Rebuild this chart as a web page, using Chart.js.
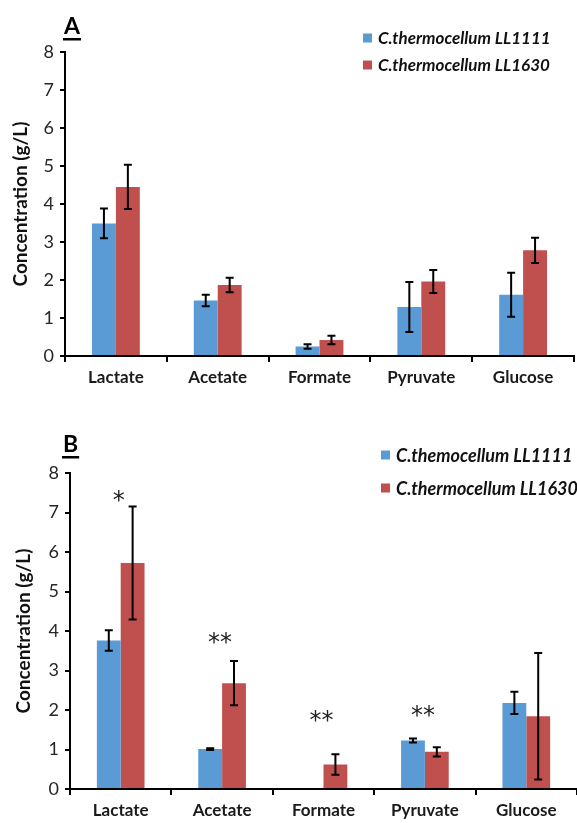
<!DOCTYPE html>
<html>
<head>
<meta charset="utf-8">
<script src="https://cdn.jsdelivr.net/npm/chart.js@4.4.1/dist/chart.umd.min.js"></script>
<style>
  body { margin: 0; background: #fff; }
  canvas { display: block; }
</style>
</head>
<body>
<canvas id="chartA" width="577" height="400"></canvas>
<canvas id="chartB" width="577" height="423"></canvas>
<script>
// categories and values (g/L)
const categories = ['Lactate', 'Acetate', 'Formate', 'Pyruvate', 'Glucose'];

const aLL1111 = [3.49, 1.46, 0.25, 1.29, 1.61];
const aLL1111Err = [0.39, 0.15, 0.06, 0.66, 0.58];
const aLL1630 = [4.45, 1.87, 0.42, 1.96, 2.78];
const aLL1630Err = [0.58, 0.19, 0.11, 0.30, 0.33];

const bLL1111 = [3.76, 1.01, 0, 1.23, 2.18];
const bLL1111Err = [0.26, 0.02, 0, 0.05, 0.28];
const bLL1630 = [5.72, 2.68, 0.62, 0.94, 1.84];
const bLL1630Err = [1.43, 0.56, 0.26, 0.12, 1.60];

// significance marks in panel B and the level they sit at
const bStars = ['*', '**', '**', '**', ''];
const bStarLevels = [7.37, 3.78, 1.8, 1.92, 0];

const legendA = ['C.thermocellum LL1111', 'C.thermocellum LL1630'];
const legendB = ['C.themocellum LL1111', 'C.thermocellum LL1630'];

const blue = '#5B9BD5';
const red = '#C0504D';

Chart.defaults.font.family = 'Lato';

// error bars drawn from dataset.errors
const errorBars = {
  id: 'errorBars',
  afterDatasetsDraw(chart) {
    const ctx = chart.ctx;
    const y = chart.scales.y;
    ctx.save();
    ctx.strokeStyle = '#000';
    ctx.lineWidth = 2;
    chart.data.datasets.forEach((ds, di) => {
      const meta = chart.getDatasetMeta(di);
      meta.data.forEach((bar, i) => {
        const err = ds.errors[i];
        if (!err) return;
        const top = y.getPixelForValue(ds.data[i] + err);
        const bot = y.getPixelForValue(Math.max(0, ds.data[i] - err));
        const half = 4;
        ctx.beginPath();
        ctx.moveTo(bar.x, top); ctx.lineTo(bar.x, bot);
        ctx.moveTo(bar.x - half, top); ctx.lineTo(bar.x + half, top);
        ctx.moveTo(bar.x - half, bot); ctx.lineTo(bar.x + half, bot);
        ctx.stroke();
      });
    });
    ctx.restore();
  }
};

// panel letter, legend and star marks
const decor = {
  id: 'decor',
  afterDraw(chart, args, opts) {
    const ctx = chart.ctx;
    ctx.save();
    ctx.fillStyle = '#000';
    ctx.font = 'bold 23px Lato';
    ctx.textBaseline = 'alphabetic';
    ctx.textAlign = 'left';
    ctx.fillText(opts.letter, opts.letterX, opts.letterY);
    const w = ctx.measureText(opts.letter).width;
    ctx.fillRect(opts.letterX - 1, opts.letterY + 4, w + 2, 2.5);

    ctx.font = 'italic bold ' + opts.legendSize + 'px Lato';
    ctx.textBaseline = 'middle';
    chart.data.datasets.forEach((ds, i) => {
      const yy = opts.legendY + i * opts.legendGap;
      ctx.fillStyle = ds.backgroundColor;
      ctx.fillRect(opts.legendX, yy - 4.5, 9, 9);
      ctx.fillStyle = '#111';
      ctx.fillText(ds.label, opts.legendX + 15, yy + 1);
    });

    if (opts.stars) {
      const x = chart.scales.x, y = chart.scales.y;
      ctx.font = '24px "DejaVu Sans"';
      ctx.textAlign = 'center';
      ctx.fillStyle = '#222';
      opts.stars.forEach((s, i) => {
        if (!s) return;
        ctx.fillText(s, x.getPixelForValue(i) - 2, y.getPixelForValue(opts.starLevels[i]) + 4);
      });
    }
    ctx.restore();
  }
};

function makeChart(id, d1, e1, d2, e2, labels, box, decorOpts) {
  const H = document.getElementById(id).height;
  return new Chart(document.getElementById(id), {
    type: 'bar',
    data: {
      labels: categories,
      datasets: [
        { label: labels[0], data: d1, errors: e1, backgroundColor: blue },
        { label: labels[1], data: d2, errors: e2, backgroundColor: red }
      ]
    },
    options: {
      responsive: false,
      animation: false,
      datasets: { bar: { categoryPercentage: 0.47, barPercentage: 1.0 } },
      layout: { padding: { top: box.top, right: 577 - box.right, left: 0, bottom: 0 } },
      plugins: {
        legend: { display: false },
        tooltip: { enabled: false },
        decor: decorOpts
      },
      scales: {
        x: {
          afterFit: s => { s.height = H - box.bottom; },
          grid: { drawOnChartArea: false, drawTicks: true, tickLength: 6, color: '#000', lineWidth: 2, offset: true },
          border: { display: true, color: '#000', width: 2 },
          ticks: { color: '#1a1a1a', font: { size: 17, weight: 'bold' }, padding: 5 }
        },
        y: {
          min: 0, max: 8,
          afterFit: s => { s.width = box.left; },
          grid: { drawOnChartArea: false, drawTicks: true, tickLength: 5, color: '#000', lineWidth: 2 },
          border: { display: true, color: '#000', width: 2 },
          ticks: { stepSize: 1, color: '#262626', font: { size: 18 }, padding: 6 },
          title: {
            display: true, text: 'Concentration (g/L)', color: '#111',
            font: { size: 19, weight: 'bold' }, padding: { top: box.titlePad, bottom: 0 }
          }
        }
      }
    },
    plugins: [errorBars, decor]
  });
}

makeChart('chartA', aLL1111, aLL1111Err, aLL1630, aLL1630Err, legendA,
  { left: 65, top: 52, right: 574, bottom: 356, titlePad: 9 },
  { letter: 'A', letterX: 64, letterY: 34, legendX: 363, legendY: 38, legendGap: 27, legendSize: 17 });

makeChart('chartB', bLL1111, bLL1111Err, bLL1630, bLL1630Err, legendB,
  { left: 70, top: 73, right: 577, bottom: 389, titlePad: 12 },
  { letter: 'B', letterX: 63, letterY: 52, legendX: 381, legendY: 55, legendGap: 33, legendSize: 18,
    stars: bStars, starLevels: bStarLevels });
</script>
</body>
</html>
